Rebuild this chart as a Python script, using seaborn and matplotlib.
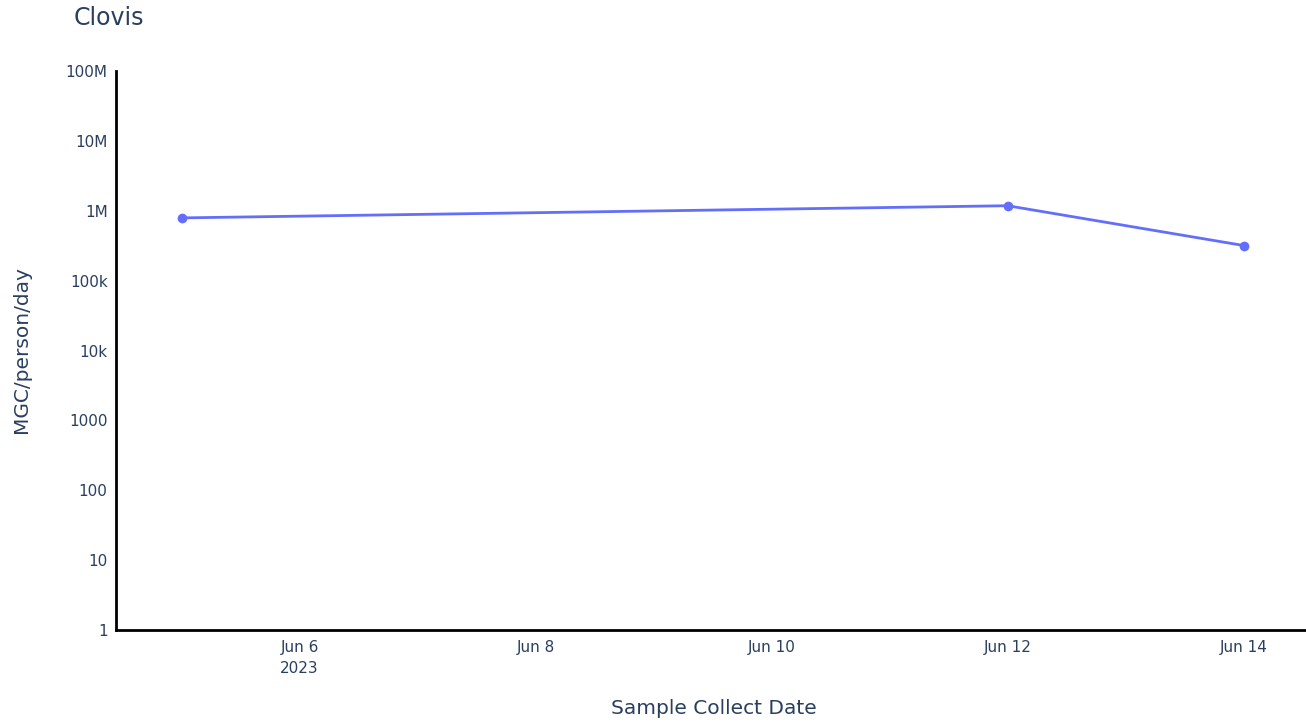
import matplotlib
matplotlib.use("Agg")
import matplotlib.pyplot as plt
import seaborn as sns
import pandas as pd

dates = ["2023-06-05", "2023-06-12", "2023-06-14"]
values = [790000, 1180000, 318000]
ytick_vals = [1, 10, 100, 1000, 1e4, 1e5, 1e6, 1e7, 1e8]
ytick_labels = ["1", "10", "100", "1000", "10k", "100k", "1M", "10M", "100M"]
xtick_dates = ["2023-06-06", "2023-06-08", "2023-06-10", "2023-06-12", "2023-06-14"]
xtick_labels = ["Jun 6\n2023", "Jun 8", "Jun 10", "Jun 12", "Jun 14"]

df = pd.DataFrame({"date": pd.to_datetime(dates), "value": values})

sns.set_theme(style="white")
plt.rcParams['font.family'] = ['DejaVu Sans']
text_color = "#2a3f5f"

fig = plt.figure(figsize=(13.06, 7.24), dpi=100)
ax = fig.add_axes([116/1306, 1-630/724, (1305-116)/1306, (630-71)/724])

sns.lineplot(data=df, x="date", y="value", ax=ax, color="#636efa", linewidth=2.0,
             marker="o", markersize=7, markeredgewidth=0)

ax.set_yscale("log")
ax.set_ylim(1, 1e8)
ax.set_yticks(ytick_vals)
ax.set_yticklabels(ytick_labels)
ax.yaxis.set_minor_locator(matplotlib.ticker.NullLocator())

x0 = pd.Timestamp("2023-06-06") - pd.Timedelta(days=1.556)
x1 = pd.Timestamp("2023-06-14") + pd.Timedelta(days=0.52)
ax.set_xlim(x0, x1)
ax.set_xticks(pd.to_datetime(xtick_dates))
ax.set_xticklabels(xtick_labels, linespacing=1.55)

ax.tick_params(axis="both", length=0, labelsize=11, colors=text_color)
ax.tick_params(axis="x", pad=7)
ax.tick_params(axis="y", pad=6)

for s in ["top", "right"]:
    ax.spines[s].set_visible(False)
for s in ["left", "bottom"]:
    ax.spines[s].set_color("black")
    ax.spines[s].set_linewidth(2)
ax.grid(False)

ax.set_xlabel("Sample Collect Date", fontsize=14.5, color=text_color)
ax.set_ylabel("MGC/person/day", fontsize=14.5, color=text_color)
ax.xaxis.set_label_coords((714-116)/(1305-116), -(709-630)/(630-71))
ax.yaxis.set_label_coords(-(116-22)/(1305-116), (630-350)/(630-71))
ax.xaxis.label.set_verticalalignment("center")
ax.yaxis.label.set_verticalalignment("center")

fig.text(74/1306, 1-18/724, "Clovis", fontsize=17, color=text_color, ha="left", va="center")

fig.savefig("out.png", dpi=100, facecolor="white")
